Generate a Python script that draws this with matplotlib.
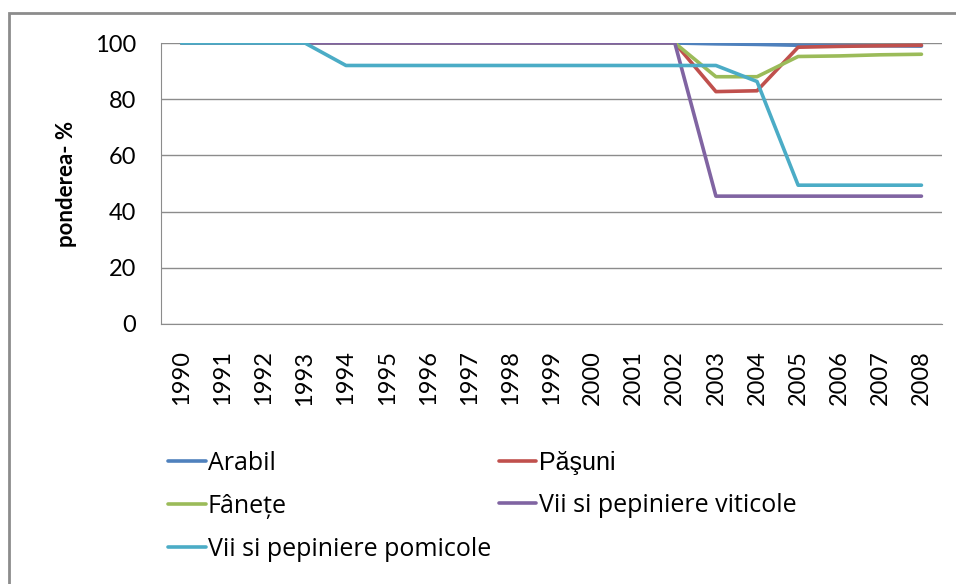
import matplotlib.pyplot as plt
from matplotlib.patches import Rectangle

years = [str(y) for y in range(1990, 2009)]

arabil = [100, 100, 100, 100, 100, 100, 100, 100, 100, 100, 100, 100, 100,
          99.7, 99.5, 99.2, 99.1, 99.0, 98.9]
pasuni = [100, 100, 100, 100, 100, 100, 100, 100, 100, 100, 100, 100, 100,
          82.7, 83.0, 98.5, 98.8, 99.0, 99.2]
fanete = [100, 100, 100, 100, 100, 100, 100, 100, 100, 100, 100, 100, 100,
          88.0, 88.0, 95.2, 95.4, 95.8, 96.0]
viticole = [100, 100, 100, 100, 100, 100, 100, 100, 100, 100, 100, 100, 100,
            45.5, 45.5, 45.5, 45.5, 45.5, 45.5]
pomicole = [100, 100, 100, 100, 92, 92, 92, 92, 92, 92, 92, 92, 92,
            92, 86.3, 49.4, 49.4, 49.4, 49.4]

series = [
    ("Arabil", arabil, "#4F81BD"),
    ("Păşuni", pasuni, "#C0504D"),
    ("Fânețe", fanete, "#9BBB59"),
    ("Vii si pepiniere viticole", viticole, "#8064A2"),
    ("Vii si pepiniere pomicole", pomicole, "#4BACC6"),
]

plt.rcParams['font.family'] = ['Lato', 'DejaVu Sans']

fig = plt.figure(figsize=(9.56, 5.84), dpi=100)
ax = fig.add_axes([161 / 956, 1 - 324 / 584, (942 - 161) / 956, (324 - 43) / 584])

x = list(range(len(years)))
lines = {}
for name, vals, col in series:
    ln, = ax.plot(x, vals, color=col, lw=2.6, label=name, solid_capstyle='round')
    lines[name] = ln

ax.set_xlim(-0.5, len(years) - 0.5)
ax.set_ylim(0, 100)
ax.set_yticks([0, 20, 40, 60, 80, 100])
ax.set_xticks(x)
ax.set_xticklabels(years, rotation=90)
ax.tick_params(axis='both', length=0, labelsize=17, colors='black')
ax.tick_params(axis='y', pad=18)
ax.tick_params(axis='x', pad=19)
ax.yaxis.grid(True, color='#8c8c8c', lw=1)
ax.set_axisbelow(True)
for s in ['top', 'right']:
    ax.spines[s].set_visible(False)
for s in ['left', 'bottom']:
    ax.spines[s].set_color('#8c8c8c')
ax.set_ylabel('ponderea- %', fontsize=16, fontweight='bold')
ax.yaxis.set_label_coords(-84 / 781, 0.5)

# outer chart border
fig.patches.append(Rectangle((9 / 956, -0.1), 1.2, 1 - 13 / 584 + 0.1,
                             transform=fig.transFigure, fill=False,
                             edgecolor='#8c8c8c', lw=2))

order = ["Arabil", "Fânețe", "Vii si pepiniere pomicole",
         "Păşuni", "Vii si pepiniere viticole"]
leg = fig.legend([lines[n] for n in order], order, ncol=2,
                 loc='upper left', bbox_to_anchor=(158 / 956, 1 - 441 / 584),
                 frameon=False, handlelength=1.5,
                 prop={'family': ['Open Sans', 'DejaVu Sans'], 'size': 18},
                 handletextpad=0.1, labelspacing=0.72, columnspacing=0.3,
                 borderaxespad=0)
for t in leg.get_texts():
    if t.get_text() == "Păşuni":
        t.set_fontfamily(['Liberation Sans', 'DejaVu Sans'])
        t.set_fontsize(18)

fig.savefig('out.png', dpi=100)
